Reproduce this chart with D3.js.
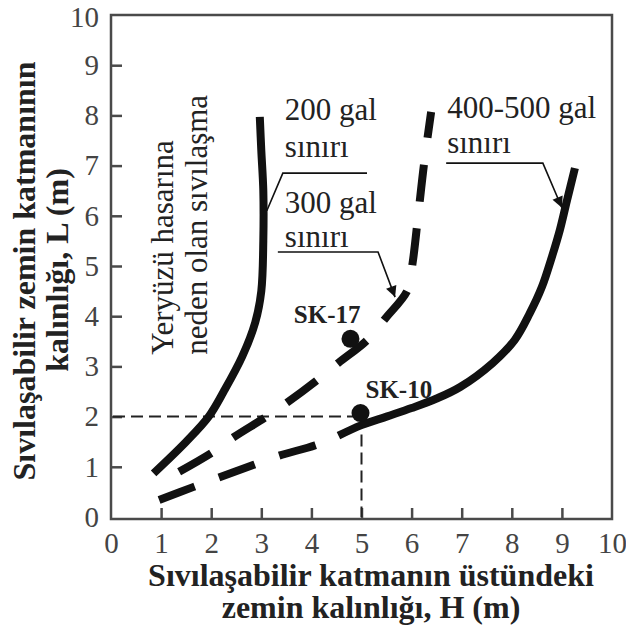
<!DOCTYPE html>
<html>
<head>
<meta charset="utf-8">
<script src="https://cdn.jsdelivr.net/npm/d3@7"></script>
<style>
  html, body { margin: 0; padding: 0; background: #fff; }
  svg { display: block; }
</style>
</head>
<body>
<svg id="chart" width="626" height="631"></svg>
<script>
// ---------------- data ----------------
const xTicks = [0, 1, 2, 3, 4, 5, 6, 7, 8, 9, 10];
const yTicks = [0, 1, 2, 3, 4, 5, 6, 7, 8, 9, 10];

// 200 gal boundary (solid)
const curve200 = [[0.85,0.87],[1.5,1.5],[1.95,2.0],[2.25,2.5],[2.62,3.2],[2.88,3.88],[3.0,4.5],[3.04,5.5],[3.04,6.5],[3.0,7.3],[2.97,7.97]];
// 300 gal boundary (dashed)
const curve300 = [[1.36,0.9],[2.03,1.29],[2.45,1.59],[3.09,1.99],[3.53,2.29],[4.12,2.73],[4.54,3.07],[5.12,3.53],[5.48,3.96],[5.92,4.52],[6.02,5.06],[6.13,6.0],[6.25,7.05],[6.39,8.07]];
// 400-500 gal boundary (dashed lower part, solid upper part)
const curve400Dashed = [[0.96,0.34],[1.65,0.6],[2.13,0.78],[2.85,1.04],[3.35,1.22],[4.08,1.43],[4.54,1.62]];
const curve400Solid = [[4.54,1.62],[5.0,1.83],[5.5,2.0],[6.0,2.17],[6.5,2.36],[6.97,2.59],[7.62,3.07],[8.06,3.53],[8.36,4.06],[8.6,4.58],[8.8,5.18],[8.96,5.72],[9.1,6.3],[9.26,6.95]];

const siteNames = ["SK-17", "SK-10"];
const siteH = [4.78, 4.98];
const siteL = [3.55, 2.07];

const guideH = 5;
const guideL = 2;

const xTitle = ["Sıvılaşabilir katmanın üstündeki", "zemin kalınlığı, H (m)"];
const yTitle = ["Sıvılaşabilir zemin katmanının", "kalınlığı, L (m)"];
const zoneLabel = ["Yeryüzü hasarına", "neden olan sıvılaşma"];
const curveLabels = [["200 gal", "sınırı"], ["300 gal", "sınırı"], ["400-500 gal", "sınırı"]];

// ---------------- layout ----------------
const SERIF = "'Liberation Serif', 'Times New Roman', serif";
const svg = d3.select("#chart");
const x = d3.scaleLinear().domain([0, 10]).range([111, 612]);
const y = d3.scaleLinear().domain([0, 10]).range([517, 15]);
const axisColor = "#4a4a4a";
const ink = "#111";
const textInk = "#222";

// frame
svg.append("rect")
  .attr("x", x(0)).attr("y", y(10))
  .attr("width", x(10) - x(0)).attr("height", y(0) - y(10) + 2)
  .attr("fill", "none").attr("stroke", axisColor).attr("stroke-width", 2.5);

// axes
const xAxis = d3.axisBottom(x).tickValues(xTicks).tickSize(-11).tickPadding(13).tickFormat(d3.format("d"));
const gx = svg.append("g").attr("transform", `translate(0,${y(0) + 2})`).call(xAxis);
gx.select(".domain").remove();
gx.selectAll(".tick line").attr("stroke", axisColor).attr("stroke-width", 2.5);
gx.selectAll(".tick text").attr("fill", "#444").style("font-family", SERIF).style("font-size", "29px");

const yAxis = d3.axisLeft(y).tickValues(yTicks).tickSize(-11).tickPadding(12).tickFormat(d3.format("d"));
const gy = svg.append("g").attr("transform", `translate(${x(0)},0)`).call(yAxis);
gy.select(".domain").remove();
gy.selectAll(".tick line").attr("stroke", axisColor).attr("stroke-width", 2.5);
gy.selectAll(".tick text").attr("fill", "#444").style("font-family", SERIF).style("font-size", "29px");
gy.selectAll(".tick").filter(d => d === 10).select("text").attr("dy", "0.4em");
gx.selectAll(".tick").filter(d => d === 0 || d === 10).select("line").remove();
gy.selectAll(".tick").filter(d => d === 0 || d === 10).select("line").remove();

function txt(sel) {
  return sel.style("font-family", SERIF).attr("fill", textInk);
}

// axis titles
const xt = txt(svg.append("text")).attr("text-anchor", "middle").style("font-weight", "bold").style("font-size", "32px");
xt.append("tspan").attr("x", 371).attr("y", 586).text(xTitle[0]);
xt.append("tspan").attr("x", 371).attr("y", 618).text(xTitle[1]);

const yt = txt(svg.append("text")).attr("text-anchor", "middle").style("font-weight", "bold").style("font-size", "32px")
  .attr("transform", "rotate(-90)");
yt.append("tspan").attr("x", -271).attr("y", 35).text(yTitle[0]);
yt.append("tspan").attr("x", -270).attr("y", 68).text(yTitle[1]);

// guide lines for SK-10
svg.append("line")
  .attr("x1", x(0) + 2).attr("y1", y(guideL)).attr("x2", x(guideH)).attr("y2", y(guideL))
  .attr("stroke", "#222").attr("stroke-width", 2).attr("stroke-dasharray", "12,6");
svg.append("line")
  .attr("x1", x(guideH)).attr("y1", y(guideL)).attr("x2", x(guideH)).attr("y2", y(0))
  .attr("stroke", "#222").attr("stroke-width", 2).attr("stroke-dasharray", "12,6");

// curves
const line = d3.line().x(d => x(d[0])).y(d => y(d[1])).curve(d3.curveCatmullRom.alpha(0.5));
function drawCurve(data, dash) {
  svg.append("path").attr("d", line(data))
    .attr("fill", "none").attr("stroke", ink).attr("stroke-width", 8)
    .attr("stroke-linecap", "butt").attr("stroke-linejoin", "round")
    .attr("stroke-dasharray", dash || null);
}
drawCurve(curve200);
drawCurve(curve300, "37,27");
drawCurve(curve400Dashed, "38,26");
drawCurve(curve400Solid);

// zone label (rotated)
txt(svg.append("text")).style("font-size", "31px")
  .attr("transform", `translate(${x(1.24)},${y(3.23)}) rotate(-90)`).text(zoneLabel[0]);
txt(svg.append("text")).style("font-size", "31px")
  .attr("transform", `translate(${x(1.92)},${y(3.23)}) rotate(-90)`).text(zoneLabel[1]);

// curve labels
const labelAnchors = [
  { h: 3.47, l1: 7.91, l2: 7.17 },
  { h: 3.47, l1: 6.06, l2: 5.38 },
  { h: 6.71, l1: 7.95, l2: 7.25 }
];
curveLabels.forEach((lab, i) => {
  const a = labelAnchors[i];
  txt(svg.append("text")).attr("x", x(a.h)).attr("y", y(a.l1)).style("font-size", "31px").text(lab[0]);
  txt(svg.append("text")).attr("x", x(a.h)).attr("y", y(a.l2)).style("font-size", "31px").text(lab[1]);
});

// leader lines
const defs = svg.append("defs");
defs.append("marker").attr("id", "arr").attr("viewBox", "0 0 10 10")
  .attr("refX", 10).attr("refY", 5).attr("markerWidth", 14).attr("markerHeight", 11)
  .attr("markerUnits", "userSpaceOnUse").attr("orient", "auto")
  .append("path").attr("d", "M0,0 L10,5 L0,10 Z").attr("fill", "#111");

const leaders = [
  { pts: [[5.11, 6.85], [3.43, 6.85], [3.11, 6.1]], arrow: false },
  { pts: [[3.33, 5.28], [5.33, 5.28], [5.67, 4.38]], arrow: true },
  { pts: [[6.69, 7.05], [8.62, 7.05], [9.0, 6.16]], arrow: true }
];
const straight = d3.line().x(d => x(d[0])).y(d => y(d[1]));
leaders.forEach(ld => {
  const p = svg.append("path").attr("d", straight(ld.pts)).attr("fill", "none")
    .attr("stroke", "#111").attr("stroke-width", 1.6);
  if (ld.arrow) p.attr("marker-end", "url(#arr)");
});

// sites
siteNames.forEach((n, i) => {
  svg.append("circle").attr("cx", x(siteH[i])).attr("cy", y(siteL[i])).attr("r", 9).attr("fill", ink);
});
txt(svg.append("text")).attr("x", x(siteH[0]) + 10).attr("y", y(siteL[0]) - 16)
  .attr("text-anchor", "end").style("font-weight", "bold").style("font-size", "25px").text(siteNames[0]);
txt(svg.append("text")).attr("x", x(siteH[1]) + 5).attr("y", y(siteL[1]) - 15)
  .attr("text-anchor", "start").style("font-weight", "bold").style("font-size", "25px").text(siteNames[1]);
</script>
</body>
</html>
